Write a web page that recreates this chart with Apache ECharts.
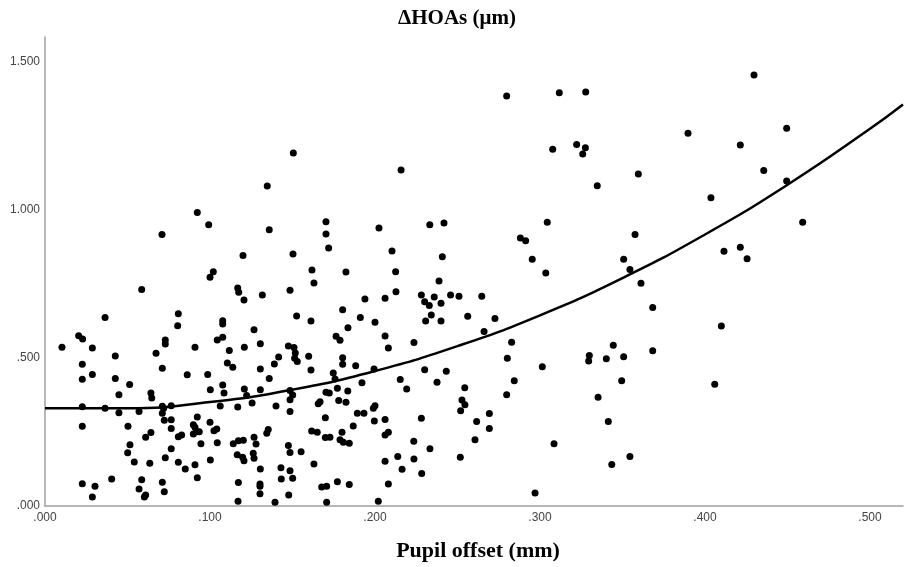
<!DOCTYPE html>
<html>
<head>
<meta charset="utf-8">
<script src="https://cdn.jsdelivr.net/npm/echarts@6/dist/echarts.min.js"></script>
<style>html,body{margin:0;padding:0;background:#fff}#c{width:904px;height:567px}</style>
</head>
<body>
<div id="c"></div>
<script>
const chartTitle = "ΔHOAs (μm)";
const xTitle = "Pupil offset (mm)";
const xTicks = [0, 0.1, 0.2, 0.3, 0.4, 0.5];
const yTicks = [0, 0.5, 1.0, 1.5];

const pupilOffset = [
0.0923,0.0992,0.0709,0.100,0.102,
0.0586,0.0364,0.0808,0.0804,0.1077,0.1077,0.0204,0.0228,0.0729,0.0729,0.1077,0.1044,0.0103,0.0287,0.0909,
0.0673,0.1117,0.0426,0.0226,0.0711,0.1105,0.0287,0.0226,0.0426,0.0862,0.0986,0.0513,0.1077,0.1002,0.0448,
0.0642,0.0647,0.1085,0.0226,0.0364,0.0711,0.0719,0.0765,0.1062,0.0448,0.0570,0.0711,0.0723,0.0765,0.0923,
0.0226,0.0503,0.0899,0.0909,0.0919,0.0899,0.0935,0.100,0.1041,0.1024,0.0765,0.0642,0.0610,0.0828,0.0808,
0.0515,0.0501,0.0765,0.0945,0.1044,0.0729,0.0541,0.0635,0.0808,0.0850,0.0909,0.1002,0.0923,0.0226,0.0303,
0.0404,0.0586,0.0711,0.0287,0.0570,0.0610,0.0602,0.0723,
0.1505,0.2158,0.1347,0.1359,0.1703,0.1703,0.1719,0.2024,0.2332,0.2418,0.1200,0.1503,0.2103,0.2408,0.1618,
0.1824,0.2125,0.2388,
0.1168,0.1174,0.1206,0.1317,0.1485,0.1630,0.2127,0.2281,0.2301,0.2329,0.2359,0.2400,0.2458,0.1939,0.2061,
0.1804,0.1525,0.1612,0.1911,0.2000,0.2341,0.2307,0.2400,0.1267,0.1836,0.1764,0.1788,0.2061,0.2081,0.2236,
0.1208,0.1305,0.1475,0.1509,0.1517,0.1529,0.1513,0.1416,0.1390,0.1598,0.1804,0.1804,0.1883,0.1612,0.1138,
0.1305,0.1994,0.2301,0.2432,0.1747,0.1758,0.1359,0.1921,0.2153,0.2192,0.2376,0.1208,0.1222,0.1255,0.1305,
0.1485,0.1501,0.1485,0.1703,0.1723,0.1772,0.1780,0.1824,0.1835,0.1656,0.1667,0.1168,0.1400,0.1485,0.1699,
0.1893,0.1933,0.1990,0.2000,0.1996,0.2061,0.2281,0.1868,0.1353,0.1344,0.1616,0.1650,0.1699,0.1727,0.1800,
0.1788,0.1808,0.1844,0.2061,0.2081,0.1141,0.1172,0.1202,0.1267,0.1279,0.2235,0.2333,0.1165,0.1198,0.1206,
0.1262,0.1267,0.1475,0.1485,0.1552,0.1305,0.1430,0.1630,0.1485,0.1501,0.1432,0.2061,0.2138,0.2164,0.2236,
0.2283,0.1172,0.1303,0.1303,0.1303,0.1477,0.1677,0.1707,0.1772,0.1844,0.2081,0.1170,0.1394,0.1707,0.2020,
0.2798,0.3117,0.3277,0.3077,0.3222,0.3275,0.3259,0.3596,0.3347,0.3044,0.2881,0.2913,0.3576,0.2953,0.3035,
0.3507,0.3545,
0.3612,0.2509,0.2647,0.2562,0.2727,0.2661,0.3683,0.2828,0.2802,0.2844,0.3014,0.3299,0.3295,0.3402,0.3444,
0.3507,0.3683,0.2544,0.2527,0.2545,0.2519,0.2798,0.3495,0.3352,0.2693,0.2616,0.2693,0.2606,0.3414,0.3085,
0.2517,0.3435,0.3545,0.2970,
0.4297,0.3897,0.4495,0.4214,0.4356,0.4495,0.4036,0.4592,0.4115,0.4214,0.4255,
0.4099,0.4059
];

const hoas = [
0.991,0.950,0.917,0.773,0.791,
0.731,0.637,0.649,0.609,0.626,0.615,0.575,0.564,0.561,0.547,0.570,0.561,0.536,0.534,0.536,
0.516,0.525,0.507,0.479,0.465,0.483,0.444,0.428,0.431,0.443,0.444,0.410,0.409,0.393,0.376,
0.382,0.365,0.382,0.335,0.330,0.337,0.330,0.339,0.338,0.315,0.319,0.313,0.290,0.291,0.301,
0.269,0.269,0.274,0.266,0.251,0.243,0.251,0.283,0.260,0.254,0.262,0.248,0.232,0.240,0.234,
0.207,0.180,0.193,0.210,0.214,0.163,0.149,0.144,0.148,0.125,0.139,0.155,0.095,0.075,0.067,
0.091,0.089,0.080,0.030,0.057,0.037,0.030,0.048,
1.192,1.135,1.081,0.933,0.960,0.919,0.871,0.939,0.950,0.956,0.846,0.851,0.861,0.842,0.797,
0.790,0.791,0.760,
0.736,0.722,0.696,0.713,0.729,0.753,0.724,0.713,0.690,0.677,0.706,0.685,0.713,0.699,0.702,
0.663,0.642,0.625,0.637,0.621,0.645,0.625,0.625,0.595,0.602,0.573,0.560,0.574,0.534,0.552,
0.536,0.548,0.540,0.535,0.517,0.488,0.499,0.503,0.480,0.506,0.501,0.479,0.474,0.459,0.469,
0.463,0.463,0.460,0.455,0.449,0.429,0.431,0.416,0.427,0.395,0.418,0.395,0.373,0.348,0.393,
0.390,0.375,0.359,0.384,0.382,0.398,0.356,0.350,0.388,0.345,0.352,0.334,0.338,0.319,0.298,
0.313,0.313,0.330,0.339,0.287,0.292,0.296,0.270,0.258,0.246,0.253,0.249,0.231,0.232,0.249,
0.224,0.215,0.212,0.240,0.249,0.210,0.220,0.222,0.232,0.209,0.219,0.193,0.173,0.165,0.153,
0.178,0.161,0.204,0.181,0.183,0.125,0.129,0.142,0.119,0.094,0.091,0.151,0.167,0.124,0.159,
0.110,0.079,0.074,0.067,0.041,0.037,0.064,0.067,0.082,0.073,0.074,0.016,0.013,0.013,0.016,
1.385,1.396,1.398,1.205,1.221,1.210,1.189,1.121,1.082,0.958,0.905,0.896,0.917,0.833,0.787,
0.833,0.799,
0.752,0.708,0.708,0.641,0.633,0.589,0.670,0.553,0.499,0.423,0.470,0.508,0.490,0.497,0.543,
0.504,0.524,0.399,0.358,0.342,0.322,0.376,0.423,0.367,0.312,0.285,0.262,0.224,0.285,0.210,
0.165,0.140,0.167,0.044,
1.456,1.259,1.276,1.219,1.133,1.098,1.041,0.958,0.860,0.874,0.835,
0.608,0.411
];

// Fit curve, values at these offsets
const curveX = [0, 0.05, 0.10, 0.15, 0.20, 0.25, 0.30, 0.35, 0.40, 0.45, 0.50, 0.52];
const curveY = [0.330, 0.330, 0.351, 0.393, 0.456, 0.540, 0.644, 0.770, 0.917, 1.085, 1.274, 1.356];

const points = pupilOffset.map((x, i) => [x, hoas[i]]);
const curve = curveX.map((x, i) => [x, curveY[i]]);

function fmt(v) {
  let s = v.toFixed(3);
  if (s.startsWith('0')) s = s.slice(1);
  return s;
}

const chart = echarts.init(document.getElementById('c'), null, {renderer: 'canvas'});
const labelFont = {color: '#444', fontSize: 12, fontFamily: '"Liberation Sans Narrow", "Arial Narrow", "Liberation Sans", sans-serif'};
chart.setOption({
  animation: false,
  backgroundColor: '#ffffff',
  grid: {left: 45, right: 1, top: 37, bottom: 61, containLabel: false},
  xAxis: {
    type: 'value', min: 0, max: 0.52, interval: 0.1,
    axisLine: {show: true, lineStyle: {color: '#a0a0a0', width: 1.5}},
    axisTick: {show: false},
    splitLine: {show: false},
    axisLabel: Object.assign({margin: 6, showMaxLabel: false,
      formatter: v => xTicks.some(t => Math.abs(t - v) < 1e-6) ? fmt(v) : ''}, labelFont)
  },
  yAxis: {
    type: 'value', min: 0, max: 1.584, interval: 0.5,
    axisLine: {show: true, lineStyle: {color: '#a0a0a0', width: 1.5}},
    axisTick: {show: false},
    splitLine: {show: false},
    axisLabel: Object.assign({margin: 5, showMaxLabel: false,
      formatter: v => yTicks.some(t => Math.abs(t - v) < 1e-6) ? fmt(v) : ''}, labelFont)
  },
  series: [
    {
      type: 'scatter', data: points, symbol: 'circle', symbolSize: 7,
      itemStyle: {color: '#000', opacity: 1}, z: 3
    },
    {
      type: 'line', data: curve, smooth: true, showSymbol: false,
      lineStyle: {color: '#000', width: 2.5}, z: 4
    }
  ],
  graphic: [
    {type: 'text', x: 457, y: 19, style: {text: chartTitle, font: 'bold 21px "Liberation Serif", "Times New Roman", serif', fill: '#000', align: 'center', verticalAlign: 'middle'}},
    {type: 'text', x: 478, y: 551, style: {text: xTitle, font: 'bold 22px "Liberation Serif", "Times New Roman", serif', fill: '#000', align: 'center', verticalAlign: 'middle'}}
  ]
});
</script>
</body>
</html>
